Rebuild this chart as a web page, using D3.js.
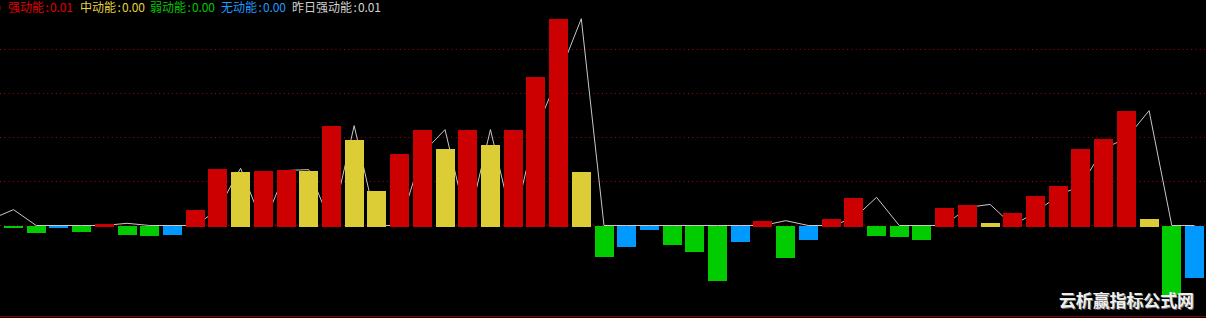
<!DOCTYPE html>
<html>
<head>
<meta charset="utf-8">
<script src="https://cdn.jsdelivr.net/npm/d3@7"></script>
<style>
  html, body { margin: 0; padding: 0; background: #000; }
  svg { display: block; }
</style>
</head>
<body>
<div id="chart"></div>
<script>
// bar value per day (grid step = 1)
const energyValues = [
  -0.05, -0.16, -0.05, -0.14, 0.05, -0.20, -0.23, -0.20, 0.36, 1.30,
  1.23, 1.25, 1.27, 1.25, 2.27, 1.95, 0.80, 1.64, 2.18, 1.75,
  2.18, 1.84, 2.18, 3.39, 4.70, 1.23, -0.70, -0.48, -0.09, -0.43,
  -0.59, -1.25, -0.36, 0.11, -0.73, -0.32, 0.16, 0.64, -0.23, -0.25,
  -0.32, 0.41, 0.48, 0.07, 0.30, 0.68, 0.91, 1.75, 1.98, 2.61,
  0.16, -1.57, -1.18
];
// s = 强动能, m = 中动能, w = 弱动能, n = 无动能
const energyTypes = "wwnwswwnssmssmsmmssmsmsssmwnnwwwnswnsswwwssmssssssmwn".split("");
// 强动能 of the two days before the visible range (oldest first)
const priorStrong = [0.14, 0.36];

const legendLabels = ["强动能", "中动能", "弱动能", "无动能", "昨日强动能"];
const legendValues = ["0.01", "0.00", "0.00", "0.00", "0.01"];
const legendKeys = ["s", "m", "w", "n", "line"];
const gridTicks = [1, 2, 3, 4];
const watermark = "云析赢指标公式网";

const colors = {
  s: "#cc0000", m: "#dccd37", w: "#00cc00", n: "#0099ff", line: "#c8c8c8"
};
const legendColors = {
  s: "#e00000", m: "#e6d23c", w: "#00c800", n: "#1e9bff", line: "#d2d2d2"
};

const width = 1206, height = 318;

const svg = d3.select("#chart").append("svg")
    .attr("width", width)
    .attr("height", height)
    .style("background", "#000");

let x = d3.scaleLinear().domain([0, energyValues.length - 1]).range([13.5, 1194.5]);
let y = d3.scaleLinear().domain([0, 1]).range([226, 182]);
const barW = 19;

// dotted grid (incl. zero level)
svg.selectAll("line.grid")
    .data([0].concat(gridTicks))
    .enter().append("line")
    .attr("class", "grid")
    .attr("x1", 0).attr("x2", width)
    .attr("y1", d => Math.round(y(d)) - 0.5)
    .attr("y2", d => Math.round(y(d)) - 0.5)
    .attr("stroke", "#b00000")
    .attr("stroke-width", 1)
    .attr("stroke-dasharray", "1,3.3");

// bottom border
svg.append("line")
    .attr("x1", 0).attr("x2", width)
    .attr("y1", 316.5).attr("y2", 316.5)
    .attr("stroke", "#8c0000");

// 昨日强动能 = yesterday's 强动能 (0 when yesterday was not strong)
let strong = energyValues.map((v, i) => energyTypes[i] === "s" ? v : 0);
let lineData = [{i: -1, v: priorStrong[0]}, {i: 0, v: priorStrong[1]}];
for (let i = 1; i < energyValues.length; i++) {
    lineData.push({i: i, v: strong[i - 1]});
}

let line = d3.line()
    .x(d => x(d.i))
    .y(d => y(d.v) - 0.5);

svg.append("path")
    .datum(lineData)
    .attr("d", line)
    .attr("fill", "none")
    .attr("stroke", colors.line)
    .attr("stroke-width", 1);

// bars
svg.selectAll("rect.bar")
    .data(energyValues)
    .enter().append("rect")
    .attr("class", "bar")
    .attr("x", (d, i) => Math.round(x(i) - barW / 2))
    .attr("width", barW)
    .attr("y", d => d >= 0 ? Math.round(y(d)) : y(0))
    .attr("height", d => d >= 0 ? y(0) + 1 - Math.round(y(d)) : Math.round(y(d)) - y(0))
    .attr("fill", (d, i) => colors[energyTypes[i]])
    .attr("shape-rendering", "crispEdges");

// legend
const legendFont = "'Noto Sans CJK SC', sans-serif";
svg.append("text")
    .attr("x", -3).attr("y", 12)
    .attr("font-family", legendFont)
    .attr("font-size", 12)
    .attr("fill", "#d2d2d2")
    .text(")");

const legendX = [8, 80, 150, 221, 292];
legendLabels.forEach(function(lbl, k) {
    let x0 = legendX[k] + lbl.length * 12;
    let t = svg.append("text")
        .attr("x", legendX[k]).attr("y", 12)
        .attr("font-family", legendFont)
        .attr("font-size", 12)
        .attr("fill", legendColors[legendKeys[k]]);
    t.append("tspan").text(lbl);
    t.append("tspan").attr("x", x0 + 1.5).text(":");
    t.append("tspan")
        .attr("x", x0 + 6)
        .attr("textLength", 23)
        .text(legendValues[k]);
});

// watermark
svg.append("text")
    .attr("x", 1060).attr("y", 308)
    .attr("font-family", legendFont)
    .attr("font-weight", "bold")
    .attr("font-size", 17)
    .attr("textLength", 135)
    .attr("fill", "#6a6a6a")
    .text(watermark);
svg.append("text")
    .attr("x", 1059).attr("y", 307)
    .attr("font-family", legendFont)
    .attr("font-weight", "bold")
    .attr("font-size", 17)
    .attr("textLength", 135)
    .attr("fill", "#eeeeee")
    .text(watermark);
</script>
</body>
</html>
